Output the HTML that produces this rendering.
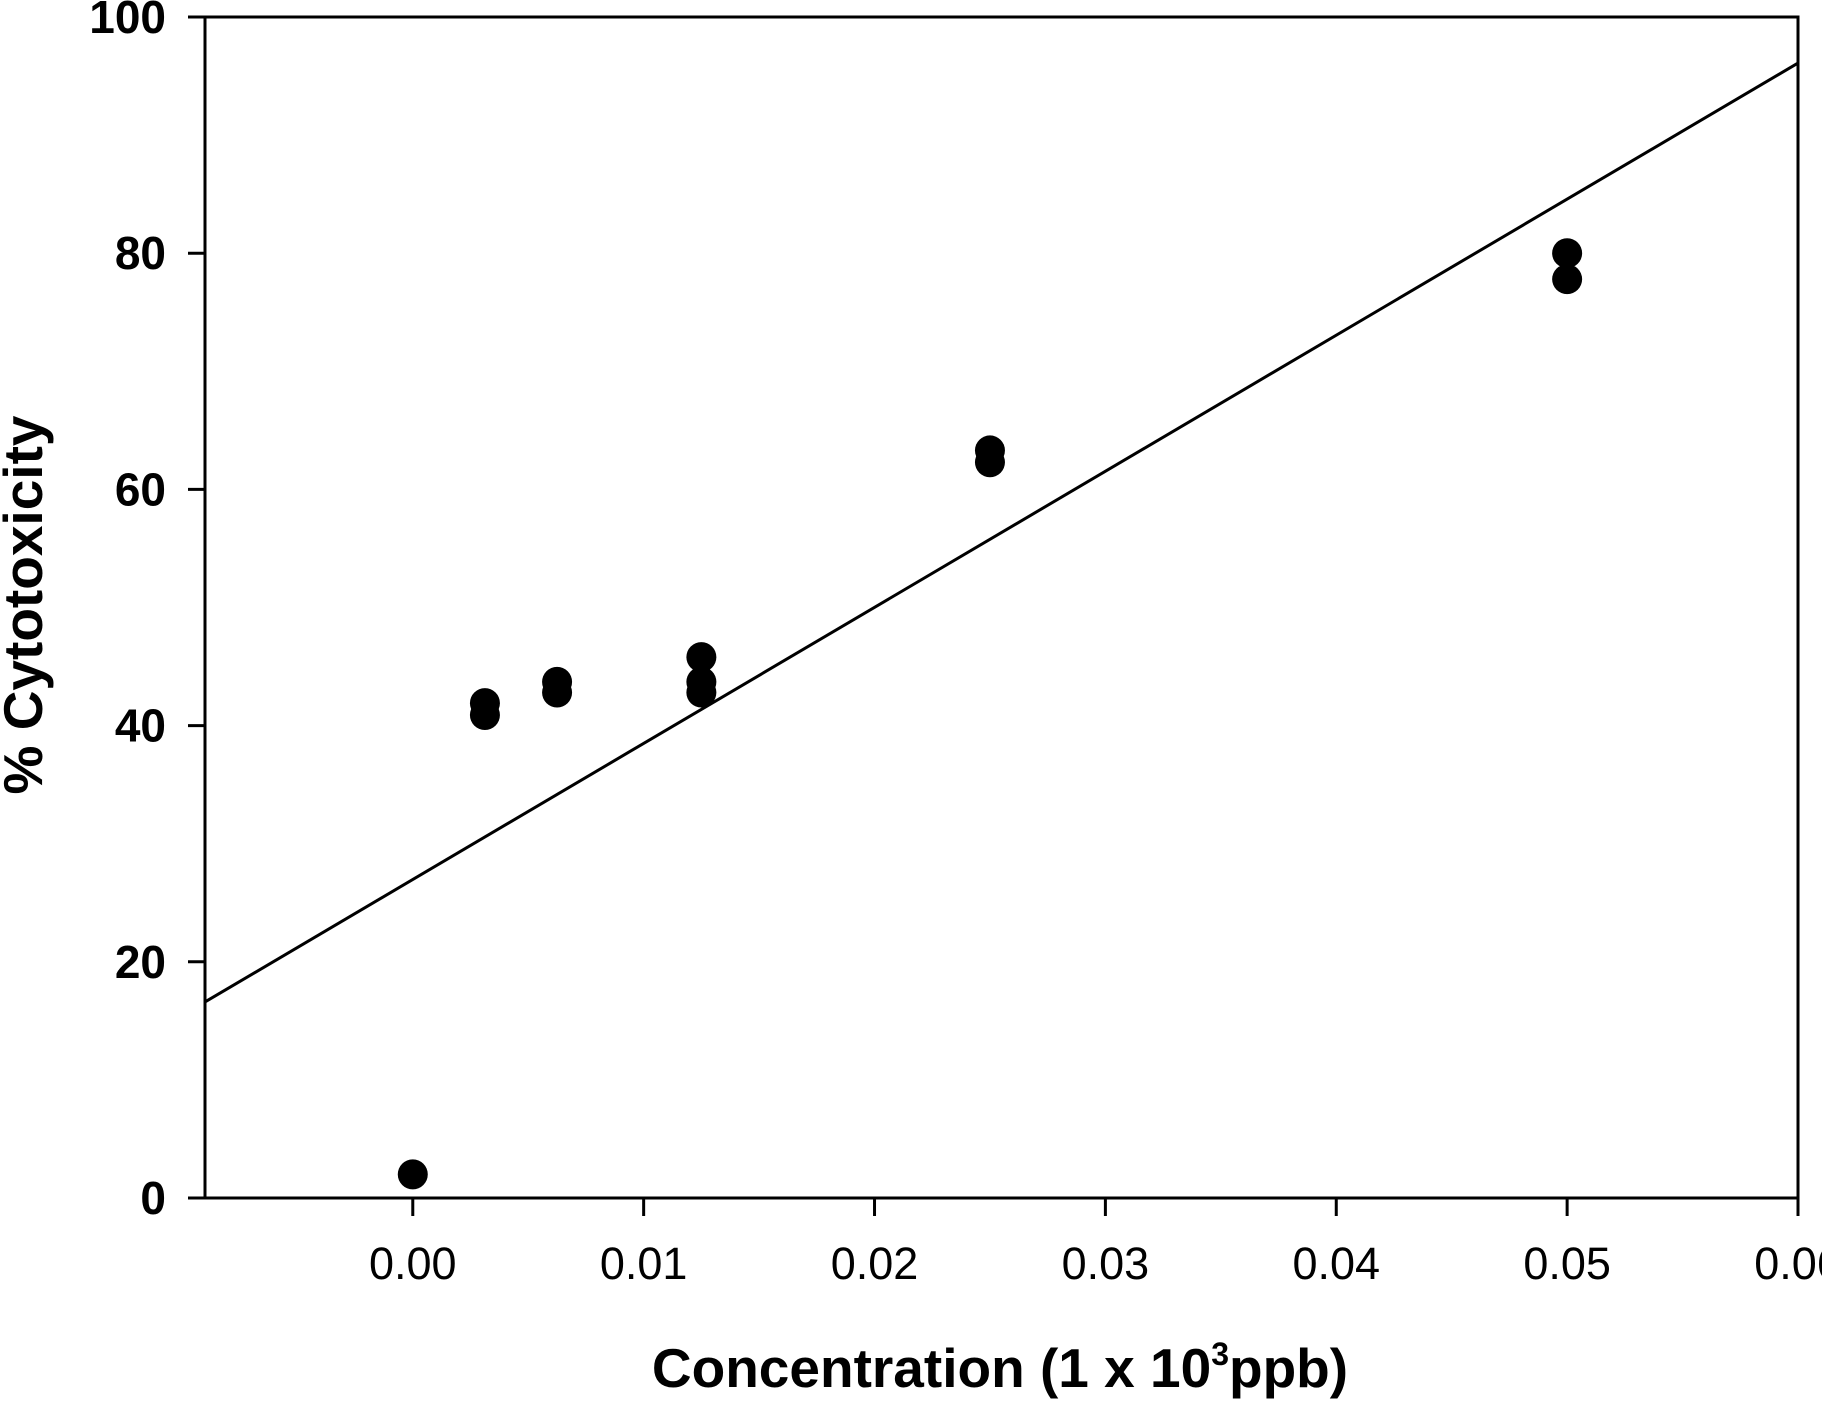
<!DOCTYPE html>
<html><head><meta charset="utf-8"><style>
html,body{margin:0;padding:0;background:#fff;}
svg{display:block;}
text{font-family:"Liberation Sans",Arial,sans-serif;fill:#000;}
</style></head><body>
<svg id="chart" width="1822" height="1401" viewBox="0 0 1822 1401"></svg>
<script>
const xTicks=[0.00,0.01,0.02,0.03,0.04,0.05,0.06];
const xTickLabels=["0.00","0.01","0.02","0.03","0.04","0.05","0.06"];
const yTicks=[0,20,40,60,80,100];
const yTickLabels=["0","20","40","60","80","100"];
const pointX=[0,0.003125,0.003125,0.00625,0.00625,0.0125,0.0125,0.0125,0.025,0.025,0.05,0.05];
const pointY=[2,41.9,40.9,43.7,42.8,45.8,43.7,42.8,63.3,62.3,80,77.8];
const fitX=[-0.009,0.06];
const fitY=[16.6,96.1];

const L=205,R=1798,T=17,B=1198,xMin=-0.009,xMax=0.06,yMin=0,yMax=100;
const sx=v=>L+(v-xMin)/(xMax-xMin)*(R-L);
const sy=v=>B-(v-yMin)/(yMax-yMin)*(B-T);
const svg=document.getElementById('chart');
const NS='http://www.w3.org/2000/svg';
function mk(tag,attrs,parent){const e=document.createElementNS(NS,tag);for(const k in attrs)e.setAttribute(k,attrs[k]);(parent||svg).appendChild(e);return e;}

const frame=mk('rect',{x:L,y:T,width:R-L,height:B-T,fill:'none',stroke:'#000','stroke-width':3});



yTicks.forEach((v,i)=>{
  const t=mk('line',{x1:188,x2:L,y1:sy(v),y2:sy(v),stroke:'#000','stroke-width':3});
  
  
  const lb=mk('text',{x:166,y:sy(v)+16,'text-anchor':'end','font-size':46,'font-weight':'bold'});
  lb.textContent=yTickLabels[i];
  
  
});
xTicks.forEach((v,i)=>{
  const t=mk('line',{x1:sx(v),x2:sx(v),y1:B,y2:1216,stroke:'#000','stroke-width':3});
  
  
  const lb=mk('text',{x:sx(v),y:1279,'text-anchor':'middle','font-size':45});
  lb.textContent=xTickLabels[i];
  
  
});

const fit=mk('line',{x1:sx(fitX[0]),y1:sy(fitY[0]),x2:sx(fitX[1]),y2:sy(fitY[1]),stroke:'#000','stroke-width':3});



pointX.forEach((x,i)=>{
  const c=mk('circle',{cx:sx(x),cy:sy(pointY[i]),r:15,fill:'#000'});
  
  
});

const xt=mk('text',{x:1000,y:1387,'text-anchor':'middle','font-size':55,'font-weight':'bold'});
xt.innerHTML='Concentration (1 x 10<tspan dy="-22" font-size="32">3</tspan><tspan dy="22">ppb)</tspan>';



const yt=mk('text',{x:0,y:0,'text-anchor':'middle','font-size':55,'font-weight':'bold',transform:'translate(42,605) rotate(-90)'});
yt.textContent='% Cytotoxicity';


</script>
</body></html>
